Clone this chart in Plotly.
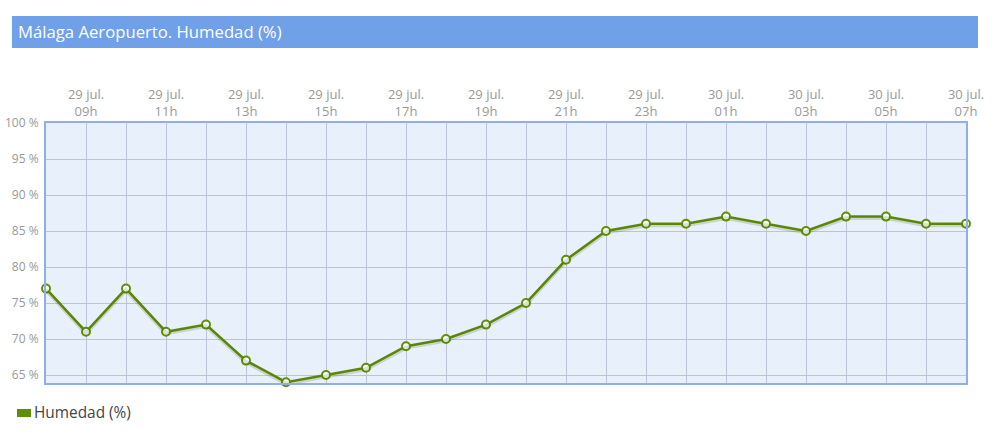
import plotly.graph_objects as go

categories = ["29 jul. 08h", "29 jul. 09h", "29 jul. 10h", "29 jul. 11h", "29 jul. 12h",
              "29 jul. 13h", "29 jul. 14h", "29 jul. 15h", "29 jul. 16h", "29 jul. 17h",
              "29 jul. 18h", "29 jul. 19h", "29 jul. 20h", "29 jul. 21h", "29 jul. 22h",
              "29 jul. 23h", "30 jul. 00h", "30 jul. 01h", "30 jul. 02h", "30 jul. 03h",
              "30 jul. 04h", "30 jul. 05h", "30 jul. 06h", "30 jul. 07h"]
humedad = [77, 71, 77, 71, 72, 67, 64, 65, 66, 69, 70, 72, 75, 81, 85,
           86, 86, 87, 86, 85, 87, 87, 86, 86]
y_ticks = [65, 70, 75, 80, 85, 90, 95, 100]

tick_text = []
for i, c in enumerate(categories):
    if i % 2 == 1:
        d, h = c.rsplit(" ", 1)
        tick_text.append(d + "<br>" + h)
    else:
        tick_text.append("")

green = "#5f8f08"
y_range = [63.89, 100]
shift = 0.2  # shadow offset (about 1.5 px)

fig = go.Figure()
# soft shadow under the line
fig.add_trace(go.Scatter(
    x=categories, y=humedad, mode="lines", yaxis="y2",
    line=dict(color="rgba(60,90,0,0.18)", width=4),
    showlegend=False, hoverinfo="skip", cliponaxis=False,
))
fig.add_trace(go.Scatter(
    x=categories, y=humedad, mode="lines+markers", name="Humedad (%)",
    line=dict(color=green, width=2.5),
    marker=dict(size=8, color="white", line=dict(color=green, width=2)),
    showlegend=False, cliponaxis=False,
))

fig.update_layout(
    width=996, height=438,
    margin=dict(l=46, r=30, t=123, b=55),
    paper_bgcolor="white", plot_bgcolor="#e8f0fb",
    font=dict(family="Open Sans", color="#999999", size=12),
    xaxis=dict(
        type="category", categoryorder="array", categoryarray=categories,
        range=[0, len(categories) - 1], side="top", automargin=False,
        tickmode="array", tickvals=categories, ticktext=tick_text,
        showgrid=True, gridcolor="#bcc3d6", gridwidth=1,
        showline=True, linecolor="#8eb0e6", linewidth=2, mirror=True,
        ticks="", tickfont=dict(size=13, color="#999999"), zeroline=False,
        fixedrange=True, ticklabelstandoff=0,
    ),
    yaxis=dict(
        range=y_range, tickmode="array", tickvals=y_ticks, automargin=False,
        ticktext=[f"{v} %" for v in y_ticks],
        showgrid=True, gridcolor="#bcc3d6", gridwidth=1,
        showline=True, linecolor="#8eb0e6", linewidth=2, mirror=True,
        ticks="", tickfont=dict(size=12, color="#999999"), zeroline=False,
        ticklabelstandoff=3, fixedrange=True,
    ),
    yaxis2=dict(
        range=[y_range[0] + shift, y_range[1] + shift], overlaying="y",
        visible=False, showgrid=False, zeroline=False, fixedrange=True,
    ),
    shapes=[
        dict(type="rect", xref="paper", yref="paper",
             x0=(12 - 46) / 920, x1=(978 - 46) / 920,
             y0=(383 - 48) / 260, y1=(383 - 16) / 260,
             fillcolor="#6fa0e8", line=dict(width=0), layer="below"),
        dict(type="rect", xref="paper", yref="paper",
             x0=(17 - 46) / 920, x1=(31 - 46) / 920,
             y0=(383 - 417) / 260, y1=(383 - 409) / 260,
             fillcolor=green, line=dict(width=0)),
    ],
    annotations=[
        dict(text="Málaga Aeropuerto. Humedad (%)", xref="paper", yref="paper",
             x=(16 - 46) / 920, y=(383 - 32) / 260, xanchor="left", yanchor="middle",
             showarrow=False, font=dict(family="Open Sans", size=16.7, color="white")),
        dict(text="Humedad (%)", xref="paper", yref="paper",
             x=(32 - 46) / 920, y=(383 - 412) / 260, xanchor="left", yanchor="middle",
             showarrow=False, font=dict(family="Open Sans", size=15.4, color="#444444")),
    ],
)

fig.write_html("out.html", config={"displayModeBar": False},
               post_script="document.body.style.margin='0';")
